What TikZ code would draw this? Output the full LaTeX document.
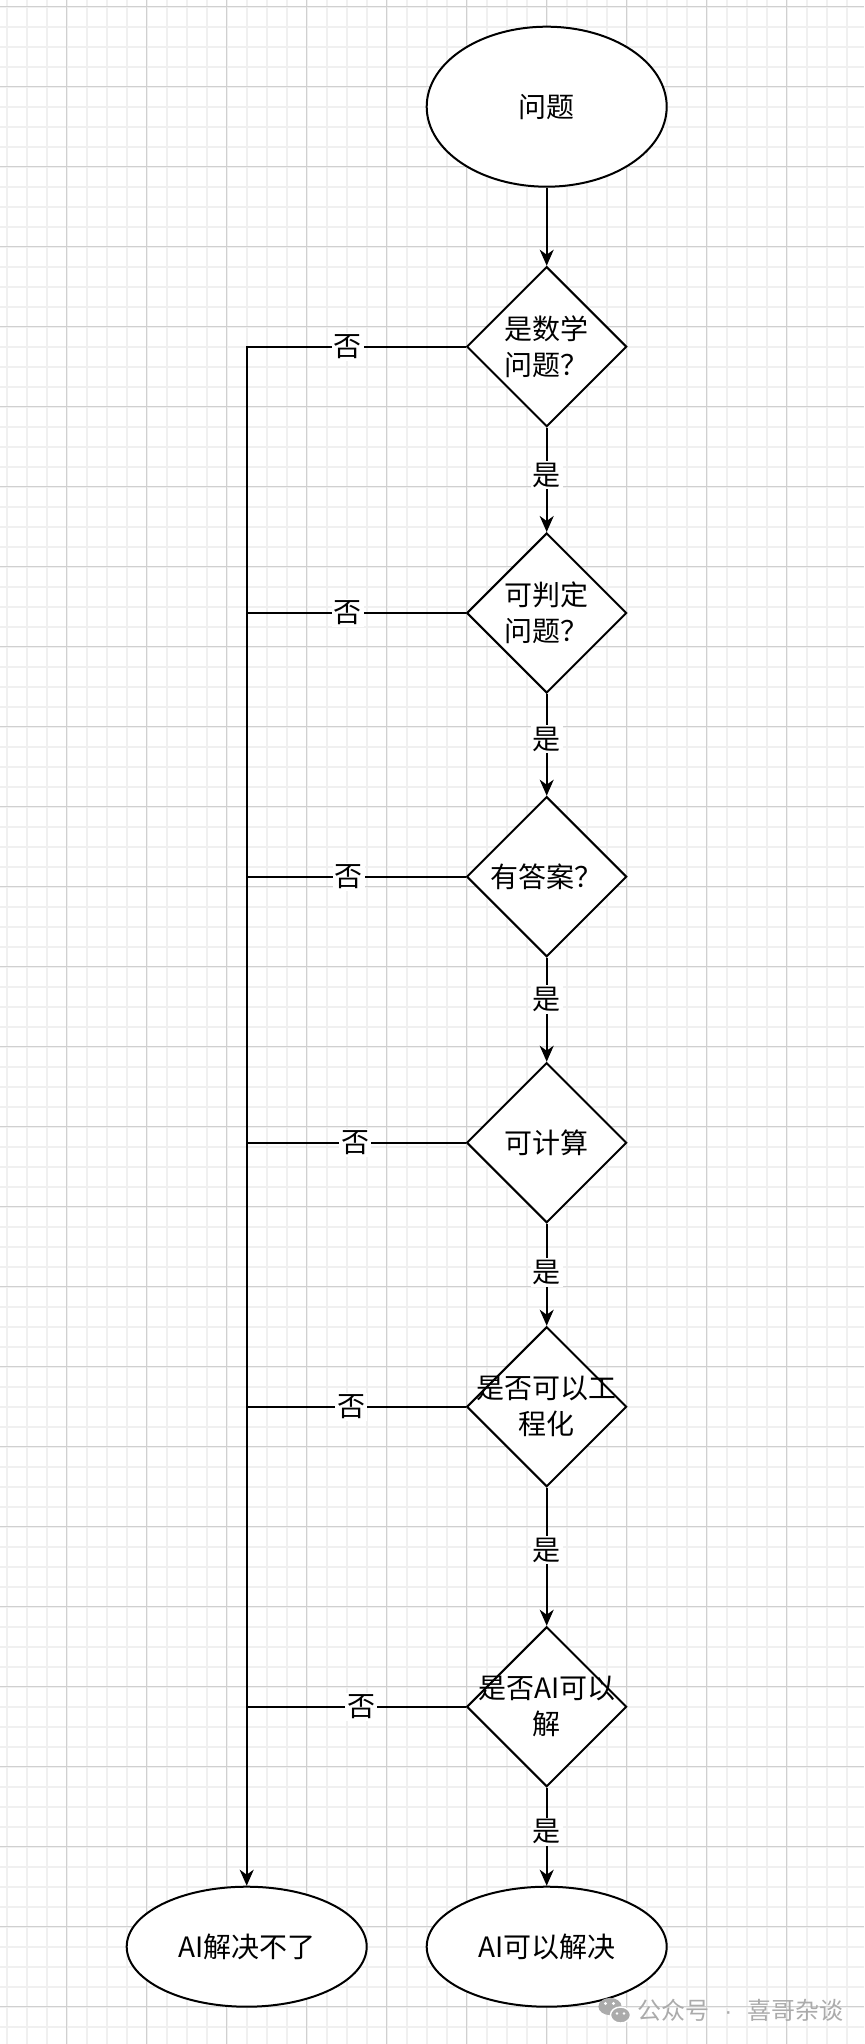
\documentclass[tikz,border=0pt]{standalone}
\usepackage{fontspec}
\setmainfont{Noto Sans CJK SC}
\newfontfamily\dotfont{Liberation Sans}
\usetikzlibrary{shapes.geometric, arrows.meta}
\definecolor{gridminor}{HTML}{F0F0F0}
\definecolor{gridmajor}{HTML}{D0D0D0}
\definecolor{wmgray}{HTML}{ABABAB}

\begin{document}
\begin{tikzpicture}[
    x=0.5pt, y=-0.5pt,
    font=\fontsize{14pt}{18pt}\selectfont,
    term/.style={draw, line width=1pt, ellipse, fill=white, minimum width=120pt,
                 minimum height=60pt, inner sep=0pt},
    cond/.style={draw, line width=1pt, diamond, fill=white, minimum width=80pt,
                 minimum height=80pt, inner sep=0pt},
    ctext/.style={align=center, inner sep=0pt},
    lbl/.style={fill=white, inner sep=1pt},
    arr/.style={-{Stealth[length=8pt, width=7pt, inset=2.5pt]}, line width=1pt},
    conn/.style={line width=1pt}
]
    \useasboundingbox (0,0) rectangle (864,2044);
    \fill[white] (0,0) rectangle (864,2044);

    % grid
    \foreach \gx in {0,...,43}
        \draw[gridminor, line width=1pt] ({6.7+20*\gx},0) -- ({6.7+20*\gx},2044);
    \foreach \gy in {0,...,101}
        \draw[gridminor, line width=1pt] (0,{6.7+20*\gy}) -- (864,{6.7+20*\gy});
    \foreach \gx in {0,...,9}
        \draw[gridmajor, line width=0.5pt] ({66.7+80*\gx},0) -- ({66.7+80*\gx},2044);
    \foreach \gy in {0,...,25}
        \draw[gridmajor, line width=0.5pt] (0,{6.7+80*\gy}) -- (864,{6.7+80*\gy});

    \node[term, minimum height=80pt] (prob) at (546.7,106.7) {问题};

    \node[cond] (math) at (546.7,346.7) {};
    \node[ctext] (mathtxt) at (math) {是数学\\问题？};
    \node[cond] (decid) at (546.7,613) {};
    \node[ctext] (decidtxt) at (decid) {可判定\\问题？};
    \node[cond] (answ) at (546.7,876.7) {};
    \node[ctext] (answtxt) at (answ) {有答案？};
    \node[cond] (comp) at (546.7,1142.7) {};
    \node[ctext] (comptxt) at (comp) {可计算};
    \node[cond] (engr) at (546.7,1406.7) {};
    \node[ctext] (engrtxt) at (engr) {是否可以工\\程化};
    \node[cond] (aisol) at (546.7,1706.7) {};
    \node[ctext] (aisoltxt) at (aisol) {是否AI可以\\解};

    \node[term] (nofix) at (246.7,1946.7) {AI解决不了};
    \node[term] (fix)   at (546.7,1946.7) {AI可以解决};

    % yes branch
    \draw[arr] (prob) -- (math);
    \draw[arr] (math)  -- node[lbl, pos=0.454]{是} (decid);
    \draw[arr] (decid) -- node[lbl, pos=0.444]{是} (answ);
    \draw[arr] (answ)  -- node[lbl, pos=0.40]{是}  (comp);
    \draw[arr] (comp)  -- node[lbl, pos=0.477]{是} (engr);
    \draw[arr] (engr)  -- node[lbl, pos=0.452]{是} (aisol);
    \draw[arr] (aisol) -- node[lbl, pos=0.45]{是}  (fix);

    % no branch, all join the left line
    \draw[arr]  (math.west)  -- node[lbl, pos=0.538]{否} (math.west -| nofix.north) -- (nofix.north);
    \draw[conn] (decid.west) -- node[lbl, pos=0.538]{否} (decid.west -| nofix.north);
    \draw[conn] (answ.west)  -- node[lbl, pos=0.534]{否} (answ.west -| nofix.north);
    \draw[conn] (comp.west)  -- node[lbl, pos=0.505]{否} (comp.west -| nofix.north);
    \draw[conn] (engr.west)  -- node[lbl, pos=0.523]{否} (engr.west -| nofix.north);
    \draw[conn] (aisol.west) -- node[lbl, pos=0.477]{否} (aisol.west -| nofix.north);

    % watermark
    \fill[wmgray] (610,2006.5) ellipse [x radius=5.8pt, y radius=4.3pt];
    \filldraw[wmgray, draw=white, line width=0.7pt] (620.5,2015) ellipse [x radius=5pt, y radius=4pt];
    \fill[white] (605.5,2003.5) circle [radius=0.8pt] (613.5,2003.5) circle [radius=0.8pt]
                 (617,2013.5) circle [radius=0.7pt] (624,2013.5) circle [radius=0.7pt];
    \node[font=\fontsize{12pt}{14pt}\selectfont, text=wmgray, anchor=west, inner sep=0pt]
        (wmark) at (637,2010) {公众号\hspace{7.5pt}{\dotfont ·}\hspace{7.5pt}喜哥杂谈};
\end{tikzpicture}
\end{document}
